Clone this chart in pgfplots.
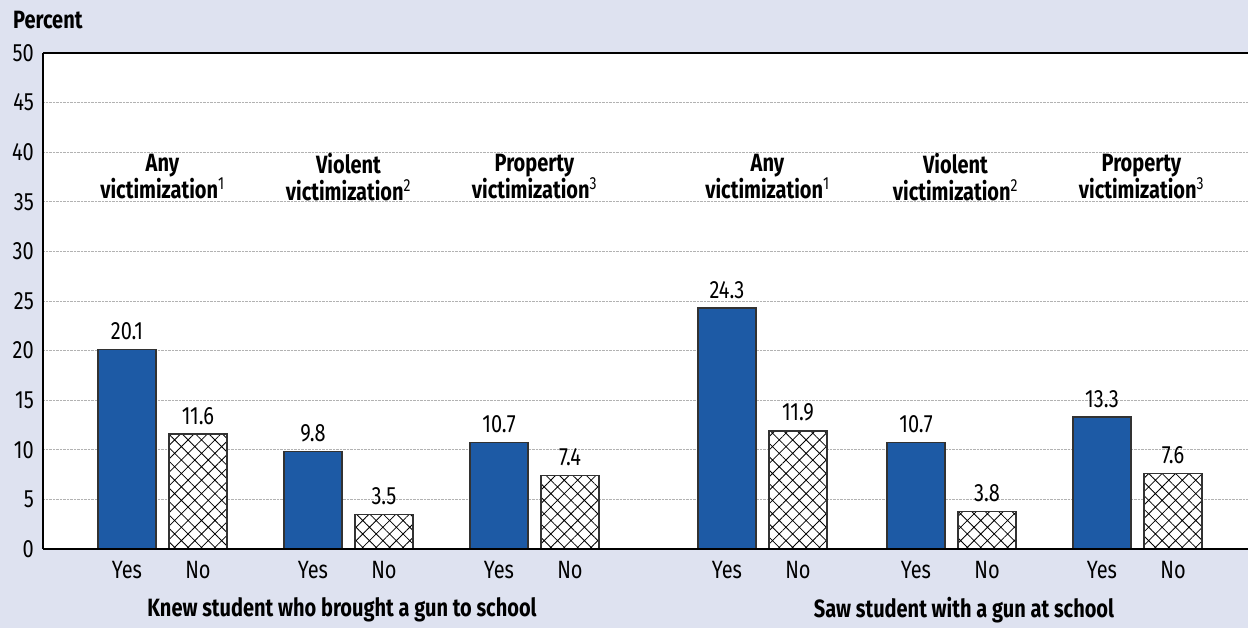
\documentclass[border=0pt]{standalone}
\usepackage{fontspec}
\setmainfont{Fira Sans}[FakeStretch=0.8]
\usepackage{pgfplots}
\pgfplotsset{compat=1.18}
\usetikzlibrary{patterns.meta}
\definecolor{bg}{RGB}{222,226,240}
\definecolor{barblue}{RGB}{29,90,165}
\definecolor{edge}{RGB}{50,50,50}
\begin{document}
\fontsize{24}{28}\selectfont
\begin{tikzpicture}
\fill[bg] (0,0) rectangle (1248pt,628pt);
\useasboundingbox (0,0) rectangle (1248pt,628pt);
\begin{axis}[
  at={(43pt,79pt)}, anchor=south west,
  width=1205pt, height=496pt, scale only axis,
  xmin=43, xmax=1248, ymin=0, ymax=50,
  clip=false,
  axis background/.style={fill=white},
  axis line style={draw=none},
  ytick={0,5,...,50},
  xtick={127,198,313,384,499,570,727,798,916,987,1102,1173},
  xticklabels={Yes,No,Yes,No,Yes,No,Yes,No,Yes,No,Yes,No},
  major tick length=0pt,
  ymajorgrids, grid style={densely dotted, gray!60, line width=0.8pt},
  tick label style={font=\fontsize{25}{28}\selectfont},
  yticklabel style={xshift=-1pt},
  xticklabel style={yshift=-4pt},
  /pgf/number format/assume math mode=true,
  ybar, bar width=58, bar shift=0pt,
  nodes near coords={\pgfmathprintnumber[fixed,fixed zerofill,precision=1,assume math mode=true]{\pgfplotspointmeta}},
  every node near coord/.append style={font=\fontsize{25}{28}\selectfont, black, yshift=1pt},
]
\addplot[fill=barblue, draw=edge, line width=1.2pt] coordinates {
 (127,20.1) (313,9.8) (499,10.7) (727,24.3) (916,10.7) (1102,13.3)};
\addplot[fill=white, draw=edge, line width=1.2pt, postaction={pattern={Hatch[angle=45,distance=9.5pt,line width=0.8pt]}}] coordinates {
 (198,11.6) (384,3.5) (570,7.4) (798,11.9) (987,3.8) (1173,7.6)};
\draw[black, line width=1.2pt] (axis cs:43,50) -- (axis cs:1248,50);
\draw[black, line width=1.2pt] (axis cs:43,0) -- (axis cs:1248,0);
\draw[black, line width=1.2pt] (axis cs:43,0) -- (axis cs:43,50);
\begin{scope}[every node/.style={align=center, font=\bfseries\fontsize{25}{27}\selectfont}]
\node at (axis cs:162.5,37.5) {Any\\victimization\textsuperscript{\mdseries 1}};
\node at (axis cs:348.5,37.5) {Violent\\victimization\textsuperscript{\mdseries 2}};
\node at (axis cs:534.5,37.5) {Property\\victimization\textsuperscript{\mdseries 3}};
\node at (axis cs:767.5,37.5) {Any\\victimization\textsuperscript{\mdseries 1}};
\node at (axis cs:955.5,37.5) {Violent\\victimization\textsuperscript{\mdseries 2}};
\node at (axis cs:1141.5,37.5) {Property\\victimization\textsuperscript{\mdseries 3}};
\node at (axis cs:342,-6.15) {Knew student who brought a gun to school};
\node at (axis cs:964,-6.15) {Saw student with a gun at school};
\node[anchor=west] at (axis cs:5,53.3) {Percent};
\end{scope}
\end{axis}
\end{tikzpicture}
\end{document}
